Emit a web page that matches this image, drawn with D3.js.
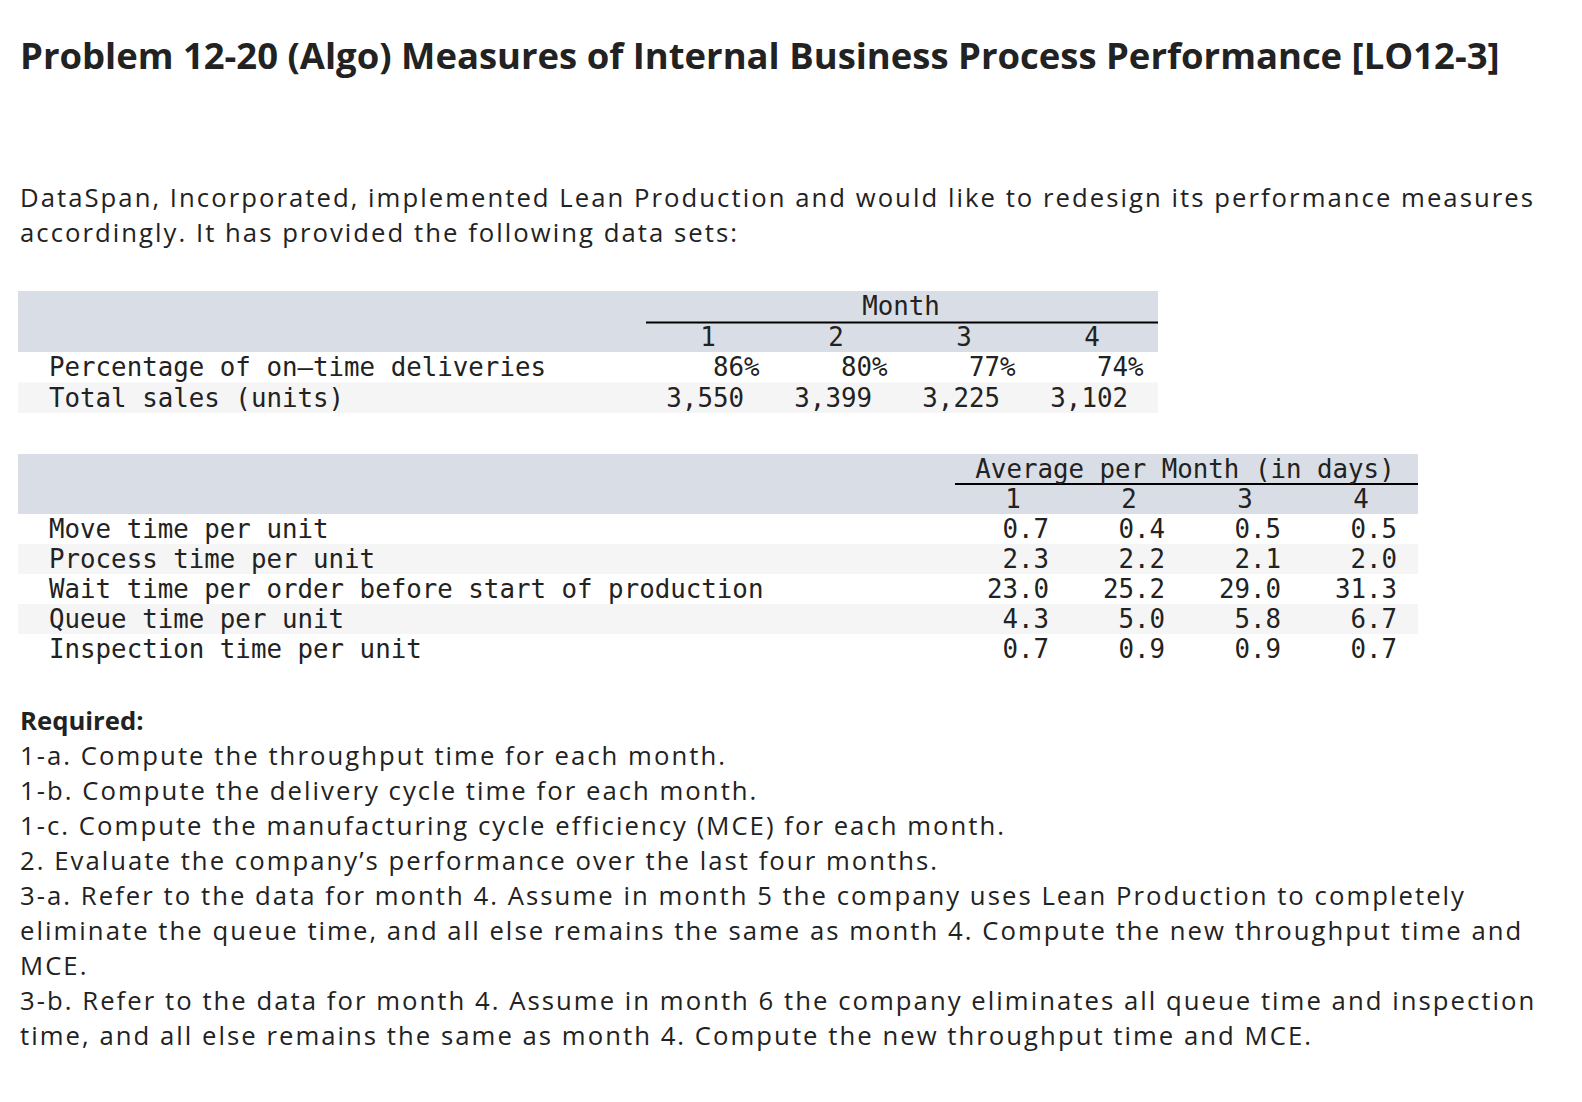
<!DOCTYPE html>
<html>
<head>
<meta charset="utf-8">
<script src="https://cdn.jsdelivr.net/npm/d3@7"></script>
<style>
  html, body { margin: 0; padding: 0; background: #fff; }
  svg { display: block; }
</style>
</head>
<body>
<svg id="chart" width="1582" height="1102"></svg>
<script>
// ---------- DATA ----------
const titleText = "Problem 12-20 (Algo) Measures of Internal Business Process Performance [LO12-3]";
const introLines = [
  "DataSpan, Incorporated, implemented Lean Production and would like to redesign its performance measures",
  "accordingly. It has provided the following data sets:"
];
const months = ["1", "2", "3", "4"];
const table1Header = "Month";
const table1Labels = ["Percentage of on\u2013time deliveries", "Total sales (units)"];
const onTimePct = [86, 80, 77, 74];
const totalSales = [3550, 3399, 3225, 3102];

const table2Header = "Average per Month (in days)";
const table2Labels = [
  "Move time per unit",
  "Process time per unit",
  "Wait time per order before start of production",
  "Queue time per unit",
  "Inspection time per unit"
];
const moveTime = [0.7, 0.4, 0.5, 0.5];
const processTime = [2.3, 2.2, 2.1, 2.0];
const waitTime = [23.0, 25.2, 29.0, 31.3];
const queueTime = [4.3, 5.0, 5.8, 6.7];
const inspectionTime = [0.7, 0.9, 0.9, 0.7];

const requiredTitle = "Required:";
const requiredLines = [
  "1-a. Compute the throughput time for each month.",
  "1-b. Compute the delivery cycle time for each month.",
  "1-c. Compute the manufacturing cycle efficiency (MCE) for each month.",
  "2. Evaluate the company\u2019s performance over the last four months.",
  "3-a. Refer to the data for month 4. Assume in month 5 the company uses Lean Production to completely",
  "eliminate the queue time, and all else remains the same as month 4. Compute the new throughput time and",
  "MCE.",
  "3-b. Refer to the data for month 4. Assume in month 6 the company eliminates all queue time and inspection",
  "time, and all else remains the same as month 4. Compute the new throughput time and MCE."
];

// ---------- STYLE ----------
const sansFont = "'Open Sans', Lato, sans-serif";
const monoFont = "'DejaVu Sans Mono', monospace";
const textColor = "#222222";
const headerBand = "#d9dde6";
const altRow = "#f5f5f5";
const monoSize = 25.8;
const charW = monoSize * 0.602;
const bodySize = 25.7;
const titleSize = 29;

const svg = d3.select("#chart");
const W = 1582, H = 1102;
svg.append("rect").attr("width", W).attr("height", H).attr("fill", "#fff");

// ---------- TITLE ----------
const title = svg.append("text")
  .attr("x", 20).attr("y", 69)
  .attr("font-family", sansFont).attr("font-weight", 700)
  .attr("font-size", titleSize).attr("fill", textColor)
  .text(titleText);
fitSize(title, 1480);

// ---------- INTRO ----------
const introY = d3.scaleLinear().domain([0, 1]).range([206.5, 242]);
const intro = svg.selectAll("text.intro").data(introLines).join("text")
  .attr("class", "intro body")
  .attr("x", 20).attr("y", (d, i) => introY(i))
  .attr("font-family", sansFont).attr("font-size", bodySize).attr("fill", textColor)
  .text(d => d);

// ---------- TABLE 1 ----------
const t1Left = 18, t1Right = 1158;
const t1Rows = d3.scaleBand().domain(["title", "head", "r0", "r1"]).range([291, 413]);
const t1X = d3.scalePoint().domain(months).range([744, 1128]); // right edge of numbers
const g1 = svg.append("g");
g1.append("rect").attr("x", t1Left).attr("y", t1Rows("title"))
  .attr("width", t1Right - t1Left).attr("height", t1Rows("r0") - t1Rows("title"))
  .attr("fill", headerBand);
g1.append("rect").attr("x", t1Left).attr("y", t1Rows("r1"))
  .attr("width", t1Right - t1Left).attr("height", t1Rows.bandwidth())
  .attr("fill", altRow);
g1.append("line").attr("x1", 646).attr("x2", t1Right)
  .attr("y1", t1Rows("head") + 1).attr("y2", t1Rows("head") + 1)
  .attr("stroke", "#000").attr("stroke-width", 2);
const base = 24;
g1.append("text").attr("x", 901).attr("y", t1Rows("title") + base)
  .attr("text-anchor", "middle").attr("class", "mono").text(table1Header);
g1.selectAll("text.h").data(months).join("text").attr("class", "mono h")
  .attr("x", d => t1X(d) - 36).attr("y", t1Rows("head") + base)
  .attr("text-anchor", "middle").text(d => d);
g1.selectAll("text.lab").data(table1Labels).join("text").attr("class", "mono lab")
  .attr("x", 49).attr("y", (d, i) => t1Rows("r" + i) + base).text(d => d);
g1.selectAll("text.pct").data(onTimePct).join("text").attr("class", "mono pct")
  .attr("x", (d, i) => t1X(months[i]) + charW).attr("y", t1Rows("r0") + base)
  .attr("text-anchor", "end").text(d => d + "%");
g1.selectAll("text.sales").data(totalSales).join("text").attr("class", "mono sales")
  .attr("x", (d, i) => t1X(months[i])).attr("y", t1Rows("r1") + base)
  .attr("text-anchor", "end").text(d => d3.format(",")(d));

// ---------- TABLE 2 ----------
const t2Left = 18, t2Right = 1418;
const t2Series = [moveTime, processTime, waitTime, queueTime, inspectionTime];
const t2Rows = d3.scaleBand().domain(["title", "head", "r0", "r1", "r2", "r3", "r4"]).range([454, 664]);
const t2X = d3.scalePoint().domain(months).range([1049, 1397]);
const g2 = svg.append("g");
g2.append("rect").attr("x", t2Left).attr("y", t2Rows("title"))
  .attr("width", t2Right - t2Left).attr("height", t2Rows("r0") - t2Rows("title"))
  .attr("fill", headerBand);
g2.selectAll("rect.alt").data([1, 3]).join("rect").attr("class", "alt")
  .attr("x", t2Left).attr("y", d => t2Rows("r" + d))
  .attr("width", t2Right - t2Left).attr("height", t2Rows.bandwidth())
  .attr("fill", altRow);
g2.append("line").attr("x1", 955).attr("x2", t2Right)
  .attr("y1", t2Rows("head")).attr("y2", t2Rows("head"))
  .attr("stroke", "#000").attr("stroke-width", 2);
g2.append("text").attr("x", 1185).attr("y", t2Rows("title") + base)
  .attr("text-anchor", "middle").attr("class", "mono").text(table2Header);
g2.selectAll("text.h").data(months).join("text").attr("class", "mono h")
  .attr("x", d => t2X(d) - 36).attr("y", t2Rows("head") + base)
  .attr("text-anchor", "middle").text(d => d);
g2.selectAll("text.lab").data(table2Labels).join("text").attr("class", "mono lab")
  .attr("x", 49).attr("y", (d, i) => t2Rows("r" + i) + base).text(d => d);
t2Series.forEach((series, r) => {
  g2.selectAll("text.v" + r).data(series).join("text").attr("class", "mono v" + r)
    .attr("x", (d, i) => t2X(months[i])).attr("y", t2Rows("r" + r) + base)
    .attr("text-anchor", "end").text(d => d3.format(".1f")(d));
});

svg.selectAll("text.mono")
  .attr("font-family", monoFont).attr("font-size", monoSize).attr("fill", textColor);

// ---------- REQUIRED ----------
const reqY = d3.scaleLinear().domain([0, 1]).range([729.5, 764.6]);
svg.append("text").attr("x", 20).attr("y", reqY(0))
  .attr("font-family", sansFont).attr("font-weight", 700)
  .attr("font-size", bodySize).attr("fill", textColor).text(requiredTitle);
svg.selectAll("text.req").data(requiredLines).join("text")
  .attr("class", "req body")
  .attr("x", 20).attr("y", (d, i) => reqY(i + 1))
  .attr("font-family", sansFont).attr("font-size", bodySize).attr("fill", textColor)
  .text(d => d);

// fit letter-spacing of body text from the longest intro line
(function () {
  const node = intro.filter((d, i) => i === 0).node();
  const measured = node.getComputedTextLength();
  const ls = (1515 - measured) / introLines[0].length;
  svg.selectAll("text.body").attr("letter-spacing", ls);
})();

function fitSize(sel, target) {
  const m = sel.node().getComputedTextLength();
  const s = +sel.attr("font-size");
  sel.attr("font-size", s * target / m);
}
</script>
</body>
</html>
